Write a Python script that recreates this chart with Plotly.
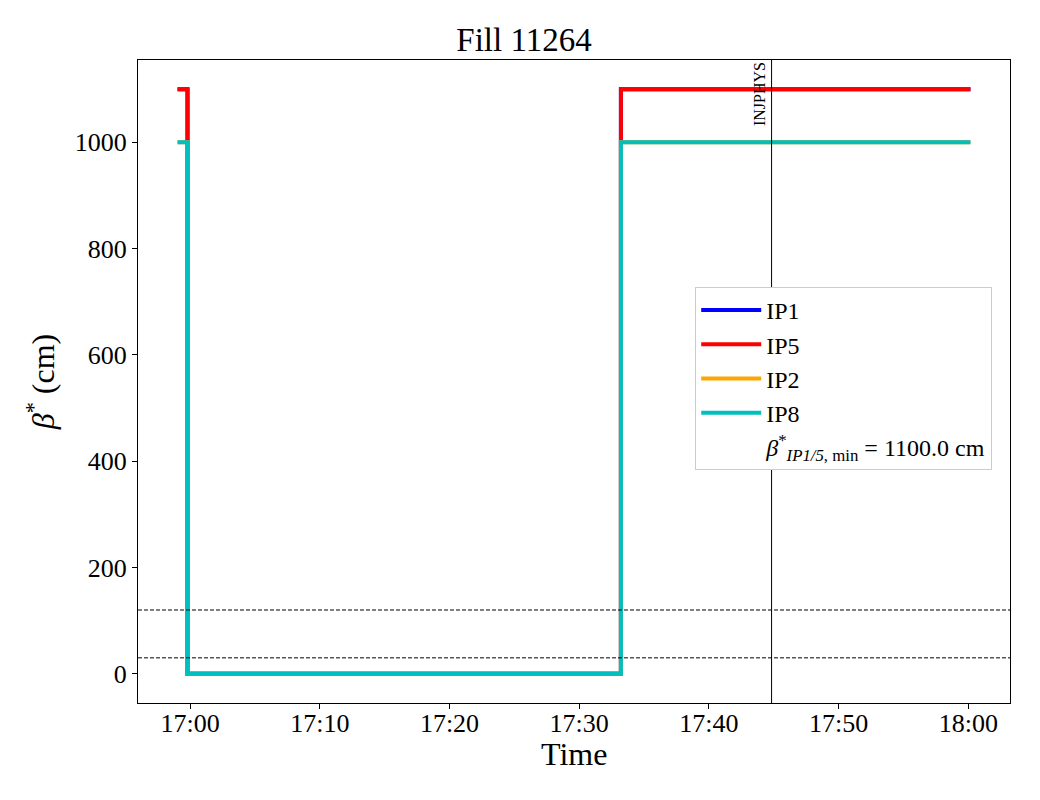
import plotly.graph_objects as go

# beta* step data (cm) vs time
day = "2025-10-12 "
t_ip15 = [day + "16:59:02", day + "16:59:48", day + "17:33:13", day + "18:00:10"]
ip1 = [1100, 0, 1100, 1100]
ip5 = [1100, 0, 1100, 1100]
t_ip28 = [day + "16:59:02", day + "16:59:48", day + "17:33:13", day + "18:00:10"]
ip2 = [1000, 0, 1000, 1000]
ip8 = [1000, 0, 1000, 1000]

mode_time = day + "17:44:50"
mode_name = "INJPHYS"
ref_levels = [30, 120]
beta_min = 1100.0

FONT = "Liberation Serif, Times New Roman, serif"

fig = go.Figure()
for name, t, vals, col in [("IP1", t_ip15, ip1, "#0000ff"),
                           ("IP5", t_ip15, ip5, "#ff0000"),
                           ("IP2", t_ip28, ip2, "#ffa500"),
                           ("IP8", t_ip28, ip8, "#00bfbf")]:
    fig.add_trace(go.Scatter(x=t, y=vals, mode="lines", name=name,
                             line=dict(color=col, width=4, shape="hv")))

# blank legend entry for min beta*
fig.add_trace(go.Scatter(x=[None], y=[None], mode="lines",
                         line=dict(color="rgba(0,0,0,0)", width=4),
                         name=f"<i>β</i><sup>*</sup><sub><i>IP1/5</i>, min</sub> = {beta_min:.1f} cm"))

for lvl in ref_levels:
    fig.add_hline(y=lvl, line=dict(color="black", width=1, dash="4px,2px"))

fig.add_vline(x=mode_time, line=dict(color="black", width=1))
fig.add_annotation(x=mode_time, y=1, xref="x", yref="paper", text=mode_name,
                   textangle=-90, showarrow=False, xanchor="right", yanchor="top",
                   xshift=-2, font=dict(family=FONT, size=16, color="black"))

# x axis title placed by hand
fig.add_annotation(x=0.5, y=-0.08, xref="paper", yref="paper", text="Time",
                   showarrow=False, xanchor="center", yanchor="middle",
                   font=dict(family=FONT, size=32, color="black"))

fig.update_layout(
    width=1032, height=792, autosize=False,
    paper_bgcolor="white", plot_bgcolor="white",
    margin=dict(l=130, r=30, t=52, b=97),
    font=dict(family=FONT, color="black"),
    title=dict(text="Fill 11264", x=0.5, xanchor="center", y=0.96, yanchor="middle",
               font=dict(size=33)),
    legend=dict(x=0.639, y=0.647, xanchor="left", yanchor="top",
                bgcolor="white", bordercolor="#cccccc", borderwidth=1,
                font=dict(size=24), tracegroupgap=4, itemwidth=60),
)
fig.update_xaxes(
    range=[day + "16:55:59", day + "18:03:13"],
    tickformat="%H:%M", dtick=600000, tick0=day + "17:00:00",
    showgrid=False, zeroline=False,
    showline=True, linecolor="black", linewidth=1, mirror=True,
    ticks="outside", ticklen=5, tickcolor="black",
    tickfont=dict(size=26), ticklabelstandoff=-8,
)
fig.update_yaxes(
    range=[-55, 1155], dtick=200, tick0=0,
    showgrid=False, zeroline=False,
    showline=True, linecolor="black", linewidth=1, mirror=True,
    ticks="outside", ticklen=5, tickcolor="black",
    tickfont=dict(size=26),
    title=dict(text="<i>β</i><sup>*</sup> (cm)", font=dict(size=32), standoff=10),
)

fig.write_html("out.html")
